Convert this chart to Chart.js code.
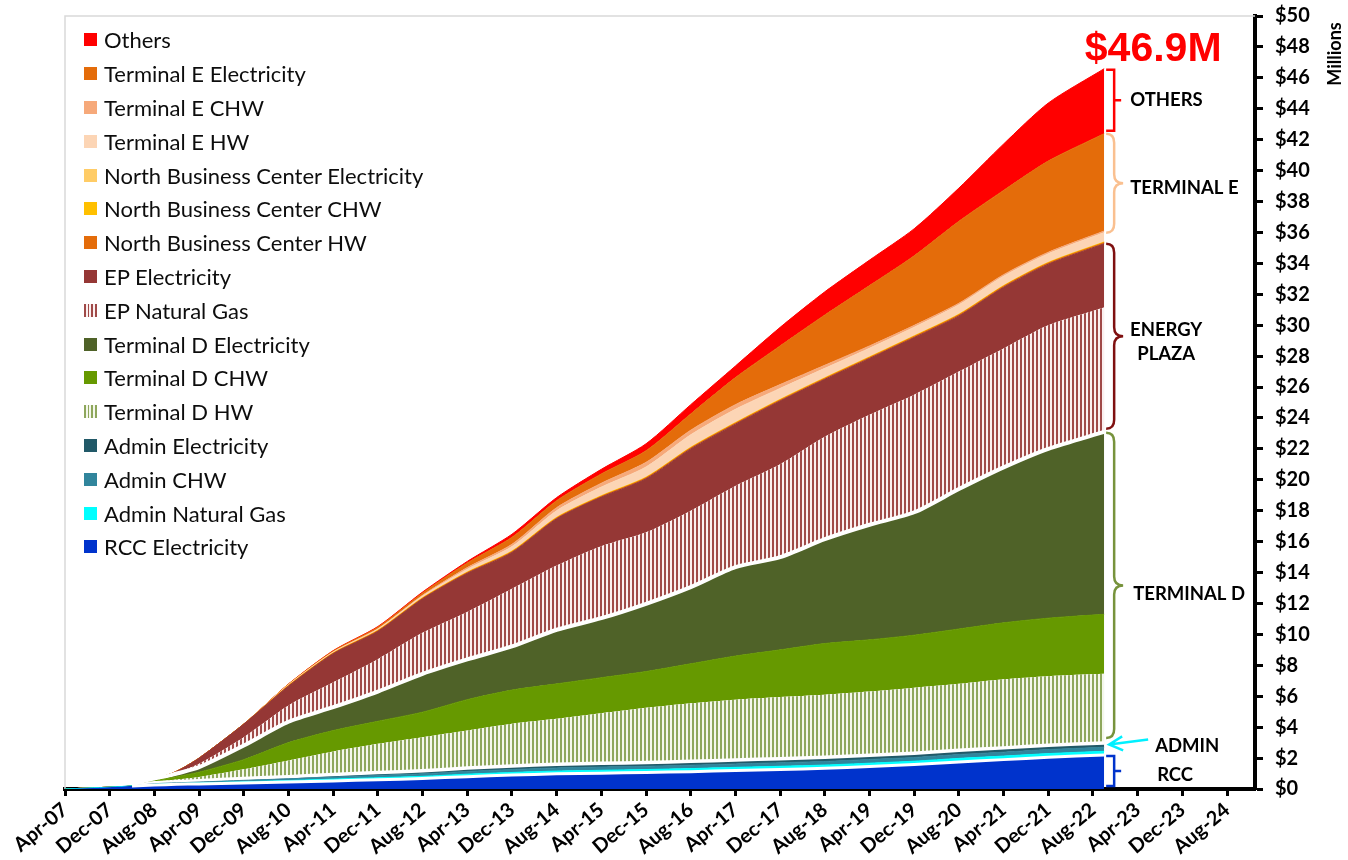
<!DOCTYPE html>
<html>
<head>
<meta charset="utf-8">
<script src="https://cdn.jsdelivr.net/npm/chart.js@4.4.1/dist/chart.umd.min.js"></script>
<style>
  html, body { margin: 0; padding: 0; background: #ffffff; }
  #wrap { position: relative; width: 1348px; height: 860px; }
  #legend { position: absolute; left: 84px; top: 23px; font-family: Lato, "Noto Sans", sans-serif; color: #0d0d0d; }
  .item { height: 33.8px; display: flex; align-items: center; white-space: nowrap; }
  .sw { width: 13px; height: 13px; margin-right: 7px; flex: none; }
</style>
</head>
<body>
<div id="wrap">
  <canvas id="c" width="1348" height="860"></canvas>
  <div id="legend"></div>
</div>
<script>
// ---- data (months since Apr-07, values in $ millions) ----
const months = [0, 8, 12, 16, 20, 24, 32, 40, 48, 56, 64, 72, 80, 88, 96, 104, 112, 120, 128, 136, 144, 152, 160, 168, 176, 186];
const tickLabels = ['Apr-07','Dec-07','Aug-08','Apr-09','Dec-09','Aug-10','Apr-11','Dec-11','Aug-12','Apr-13','Dec-13','Aug-14','Apr-15','Dec-15','Aug-16','Apr-17','Dec-17','Aug-18','Apr-19','Dec-19','Aug-20','Apr-21','Dec-21','Aug-22','Apr-23','Dec-23','Aug-24'];
const yTickValues = [0, 2, 4, 6, 8, 10, 12, 14, 16, 18, 20, 22, 24, 26, 28, 30, 32, 34, 36, 38, 40, 42, 44, 46, 48, 50];

const rccElectricity       = [0, 0.12, 0.2, 0.26, 0.3, 0.33, 0.39, 0.45, 0.52, 0.6, 0.68, 0.8, 0.9, 0.98, 1.02, 1.07, 1.12, 1.2, 1.26, 1.34, 1.45, 1.58, 1.75, 1.9, 2.05, 2.2];
const adminNaturalGas      = [0, 0, 0, 0.04, 0.05, 0.06, 0.08, 0.1, 0.12, 0.13, 0.14, 0.16, 0.17, 0.18, 0.19, 0.19, 0.2, 0.2, 0.21, 0.21, 0.22, 0.22, 0.23, 0.23, 0.24, 0.24];
const adminCHW             = [0, 0, 0, 0.04, 0.05, 0.06, 0.09, 0.11, 0.13, 0.15, 0.16, 0.18, 0.19, 0.2, 0.21, 0.21, 0.22, 0.22, 0.23, 0.23, 0.24, 0.24, 0.25, 0.25, 0.26, 0.26];
const adminElectricity     = [0, 0, 0, 0.06, 0.07, 0.09, 0.12, 0.14, 0.17, 0.19, 0.2, 0.22, 0.23, 0.24, 0.24, 0.25, 0.25, 0.26, 0.26, 0.27, 0.27, 0.27, 0.28, 0.28, 0.28, 0.28];
const terminalDHW          = [0, 0, 0, 0.05, 0.15, 0.24, 0.6, 1.05, 1.49, 1.85, 2.17, 2.42, 2.73, 2.94, 3.24, 3.53, 3.76, 3.9, 3.99, 4.05, 4.12, 4.24, 4.29, 4.44, 4.47, 4.47];
const terminalDCHW         = [0, 0, 0, 0.07, 0.18, 0.31, 0.62, 1.15, 1.35, 1.46, 1.62, 2.0, 2.18, 2.26, 2.3, 2.35, 2.55, 2.82, 3.05, 3.31, 3.35, 3.4, 3.55, 3.65, 3.75, 3.85];
const terminalDElectricity = [0, 0, 0, 0.08, 0.2, 0.32, 0.91, 1.35, 1.51, 1.92, 2.48, 2.6, 2.82, 3.5, 3.85, 4.38, 4.96, 5.75, 6.0, 6.75, 7.44, 7.95, 9.05, 10.05, 10.95, 11.8];
const epNaturalGas         = [0, 0, 0, 0, 0.05, 0.22, 0.54, 1.05, 1.61, 2.1, 2.65, 3.07, 3.73, 4.15, 4.65, 4.62, 4.94, 5.25, 6.0, 6.62, 7.11, 7.6, 7.6, 7.7, 8.0, 8.05];
const epElectricity        = [0, 0, 0, 0, 0.1, 0.37, 0.85, 1.25, 1.85, 1.8, 2.2, 2.5, 2.35, 3.03, 3.18, 3.47, 4.0, 4.0, 4.1, 3.72, 3.65, 3.7, 3.6, 3.95, 3.95, 4.12];
const nbcHW                = [0, 0, 0, 0, 0, 0, 0, 0.03, 0.03, 0.04, 0.04, 0.05, 0.05, 0.05, 0.05, 0.06, 0.06, 0.06, 0.06, 0.06, 0.06, 0.07, 0.07, 0.07, 0.07, 0.07];
const nbcCHW               = [0, 0, 0, 0, 0, 0, 0, 0.01, 0.01, 0.02, 0.02, 0.02, 0.03, 0.03, 0.03, 0.03, 0.03, 0.03, 0.03, 0.03, 0.03, 0.03, 0.03, 0.03, 0.03, 0.03];
const nbcElectricity       = [0, 0, 0, 0, 0, 0, 0, 0.01, 0.01, 0.01, 0.02, 0.02, 0.02, 0.02, 0.02, 0.02, 0.02, 0.02, 0.02, 0.02, 0.02, 0.02, 0.02, 0.02, 0.02, 0.02];
const teHW                 = [0, 0, 0, 0, 0, 0, 0, 0.04, 0.05, 0.07, 0.1, 0.18, 0.28, 0.42, 0.55, 0.65, 0.8, 0.85, 0.7, 0.6, 0.55, 0.55, 0.6, 0.6, 0.55, 0.6];
const teCHW                = [0, 0, 0, 0, 0, 0, 0, 0.01, 0.02, 0.03, 0.05, 0.1, 0.15, 0.2, 0.25, 0.3, 0.3, 0.3, 0.25, 0.2, 0.15, 0.12, 0.1, 0.1, 0.1, 0.1];
const teElectricity        = [0, 0, 0, 0, 0, 0, 0, 0.04, 0.06, 0.1, 0.15, 0.3, 0.45, 0.45, 0.6, 0.75, 1.05, 1.75, 2.5, 3.25, 3.9, 4.5, 5.3, 5.45, 5.9, 6.3];
const others               = [0, 0, 0, 0, 0, 0, 0, 0, 0.02, 0.04, 0.06, 0.1, 0.2, 0.2, 0.3, 0.45, 0.6, 0.75, 1.2, 1.5, 1.65, 1.75, 2.15, 3.0, 3.75, 4.2];

const totalLabel = '$46.9M';

// ---- drawing ----
const canvas = document.getElementById('c');
const ctx = canvas.getContext('2d');

function stripePattern(fg, bg, wf, wb) {
  const cv = document.createElement('canvas');
  cv.width = wf + wb; cv.height = 4;
  const g = cv.getContext('2d');
  g.fillStyle = bg; g.fillRect(0, 0, wf + wb, 4);
  g.fillStyle = fg; g.fillRect(0, 0, wf, 4);
  return ctx.createPattern(cv, 'repeat');
}

const defs = [
  { label: 'RCC Electricity', data: rccElectricity, color: '#0033CC', border: '#FFFFFF', bw: 3 },
  { label: 'Admin Natural Gas', data: adminNaturalGas, color: '#00FFFF' },
  { label: 'Admin CHW', data: adminCHW, color: '#31859C' },
  { label: 'Admin Electricity', data: adminElectricity, color: '#215968', border: '#FFFFFF', bw: 3.5 },
  { label: 'Terminal D HW', data: terminalDHW, stripes: ['#8EA75C', '#F4F7EC'], color: '#A9C07A' },
  { label: 'Terminal D CHW', data: terminalDCHW, color: '#669900' },
  { label: 'Terminal D Electricity', data: terminalDElectricity, color: '#4F6228', border: '#FFFFFF', bw: 4 },
  { label: 'EP Natural Gas', data: epNaturalGas, stripes: ['#A04A48', '#FBF0F0'], color: '#C07876' },
  { label: 'EP Electricity', data: epElectricity, color: '#953735' },
  { label: 'North Business Center HW', data: nbcHW, color: '#E46C0A' },
  { label: 'North Business Center CHW', data: nbcCHW, color: '#FFC000' },
  { label: 'North Business Center Electricity', data: nbcElectricity, color: '#FFCC66' },
  { label: 'Terminal E HW', data: teHW, color: '#FCD5B5' },
  { label: 'Terminal E CHW', data: teCHW, color: '#F6A97A' },
  { label: 'Terminal E Electricity', data: teElectricity, color: '#E46C0A' },
  { label: 'Others', data: others, color: '#FF0000' }
];

const datasets = defs.map((d, i) => {
  const fillStyle = d.stripes ? stripePattern(d.stripes[0], d.stripes[1], 2, 2) : d.color;
  const ds = {
    label: d.label,
    data: months.map((m, k) => ({ x: m, y: d.data[k] })),
    backgroundColor: fillStyle,
    borderColor: d.border ? d.border : (d.stripes ? 'rgba(0,0,0,0)' : d.color),
    borderWidth: d.border ? d.bw : (d.stripes ? 0 : 1),
    fill: i === 0 ? 'origin' : '-1',
    pointRadius: 0,
    pointHoverRadius: 0,
    tension: 0.25
  };
  if (d.border) {
    ds.segment = { borderColor: c => (c.p1.parsed.x <= 12 ? 'rgba(255,255,255,0)' : d.border) };
  }
  return ds;
});

// HTML legend (top entry = top of stack)
const mc = document.createElement('canvas').getContext('2d');
mc.font = '100px Lato';
const legendFs = Math.min(22, 100 * 320 / mc.measureText('North Business Center Electricity').width);
const legendEl = document.getElementById('legend');
legendEl.style.fontSize = legendFs + 'px';
defs.slice().reverse().forEach(d => {
  const row = document.createElement('div');
  row.className = 'item';
  const sw = document.createElement('span');
  sw.className = 'sw';
  if (d.stripes) {
    sw.style.background = 'repeating-linear-gradient(90deg,' + d.stripes[0] + ' 0 2px,' + d.stripes[1] + ' 2px 3.5px)';
  } else {
    sw.style.background = d.color;
  }
  const tx = document.createElement('span');
  tx.textContent = d.label;
  row.appendChild(sw); row.appendChild(tx);
  legendEl.appendChild(row);
});

function sumLast(arrs) { const n = months.length - 1; return arrs.reduce((s, a) => s + a[n], 0); }

const annotPlugin = {
  id: 'annot',
  beforeDatasetsDraw(chart) {
    const { ctx: g, chartArea: a } = chart;
    g.save();
    g.strokeStyle = '#D9D9D9'; g.lineWidth = 1.5;
    g.beginPath(); g.moveTo(a.left, a.bottom); g.lineTo(a.left, a.top); g.lineTo(a.right, a.top); g.stroke();
    g.restore();
  },
  afterDraw(chart) {
    const { ctx: g, scales: { x, y } } = chart;
    const n = months.length - 1;
    const c1 = sumLast([rccElectricity]);
    const c2 = c1 + sumLast([adminNaturalGas, adminCHW, adminElectricity]);
    const c3 = c2 + sumLast([terminalDHW, terminalDCHW, terminalDElectricity]);
    const c4 = c3 + sumLast([epNaturalGas, epElectricity]);
    const c5 = c4 + sumLast([nbcHW, nbcCHW, nbcElectricity, teHW, teCHW, teElectricity]);
    const c6 = c5 + sumLast([others]);
    const py = v => y.getPixelForValue(v);
    const ex = x.getPixelForValue(months[n]);
    const x0 = ex + 2, x1 = ex + 10, x2 = ex + 19;

    g.save();
    g.lineWidth = 2.5;
    g.lineCap = 'butt';
    g.lineJoin = 'miter';

    function square(t, b, color) {
      const m = (t + b) / 2;
      g.strokeStyle = color;
      g.beginPath();
      g.moveTo(x0, t); g.lineTo(x1, t); g.lineTo(x1, b); g.lineTo(x0, b);
      g.moveTo(x1, m); g.lineTo(x1 + 7, m);
      g.stroke();
    }
    function brace(t, b, color) {
      const m = (t + b) / 2, r = 9;
      g.strokeStyle = color;
      g.beginPath();
      g.moveTo(x0, t);
      g.quadraticCurveTo(x1, t, x1, t + r);
      g.lineTo(x1, m - r);
      g.quadraticCurveTo(x1, m, x2, m);
      g.quadraticCurveTo(x1, m, x1, m + r);
      g.lineTo(x1, b - r);
      g.quadraticCurveTo(x1, b, x0, b);
      g.stroke();
      return m;
    }

    // brackets
    square(py(c6) + 1, py(c5) - 3, '#FF0000');
    const mTE = brace(py(c5), py(c4) - 11, '#FAC090');
    const mEP = brace(py(c4), py(c3) - 3, '#7F1010');
    const mTD = brace(py(c3) + 1, py(c2) - 5, '#77933C');
    square(py(c1) + 1, py(0) - 3, '#0033CC');

    // admin arrow
    const ay = py(c2) + 1.5;
    g.strokeStyle = '#00F0FF';
    g.beginPath();
    g.moveTo(x0 + 42, ay - 5); g.lineTo(x0 + 3, ay);
    g.moveTo(x0 + 16, ay - 8); g.lineTo(x0 + 3, ay); g.lineTo(x0 + 17, ay + 6);
    g.stroke();

    // labels
    g.fillStyle = '#000000';
    g.font = 'bold 18.5px Lato';
    g.textBaseline = 'middle';
    g.textAlign = 'left';
    g.fillText('OTHERS', ex + 26, (py(c6) + py(c5)) / 2 - 1);
    g.fillText('TERMINAL E', ex + 26, mTE + 5);
    g.fillText('TERMINAL D', ex + 29, mTD + 9);
    g.fillText('ADMIN', ex + 51, ay + 2);
    g.fillText('RCC', ex + 53, (py(c1) + py(0)) / 2 + 3);
    g.textAlign = 'center';
    g.fillText('ENERGY', ex + 62, mEP - 6);
    g.fillText('PLAZA', ex + 62, mEP + 18);

    // total
    g.fillStyle = '#FF0000';
    g.font = 'bold 41px "Liberation Sans", Arial, sans-serif';
    g.textAlign = 'center';
    g.textBaseline = 'alphabetic';
    g.fillText(totalLabel, ex + 49, py(c6) - 8);

    // axis title
    g.fillStyle = '#000000';
    g.font = 'bold 18px Lato';
    g.translate(1335, 54);
    g.rotate(-Math.PI / 2);
    g.textAlign = 'center';
    g.textBaseline = 'middle';
    g.fillText('Millions', 0, 0);
    g.restore();
  }
};

Chart.defaults.font.family = 'Lato';
Chart.defaults.color = '#000000';

new Chart(ctx, {
  type: 'line',
  data: { datasets },
  options: {
    responsive: false,
    devicePixelRatio: 1,
    animation: false,
    events: [],
    layout: { padding: { top: 16, left: 65, right: 0, bottom: 0 } },
    plugins: { legend: { display: false }, tooltip: { enabled: false } },
    scales: {
      x: {
        type: 'linear',
        min: 0,
        max: 213,
        afterFit: s => { s.height = 71; },
        grid: { drawOnChartArea: false, drawTicks: true, tickLength: 7, tickWidth: 3, tickColor: '#000000' },
        border: { display: true, color: '#000000', width: 4 },
        ticks: {
          stepSize: 8,
          includeBounds: false,
          autoSkip: false,
          minRotation: 40,
          maxRotation: 40,
          padding: 2,
          font: { family: 'Lato', weight: 'bold', size: 20 },
          color: '#000000',
          callback: v => tickLabels[Math.round(v / 8)] || ''
        }
      },
      y: {
        type: 'linear',
        position: 'right',
        stacked: true,
        min: yTickValues[0],
        max: yTickValues[yTickValues.length - 1],
        afterFit: s => { s.width = 93; s.paddingTop = 8; s.paddingBottom = 8; },
        grid: { drawOnChartArea: false, drawTicks: true, tickLength: 8, tickWidth: 3, tickColor: '#000000' },
        border: { display: true, color: '#000000', width: 4 },
        ticks: {
          stepSize: 2,
          padding: 12,
          font: { family: 'Lato', weight: 'bold', size: 20 },
          color: '#000000',
          callback: v => '$' + v
        }
      }
    }
  },
  plugins: [annotPlugin]
});
</script>
</body>
</html>
